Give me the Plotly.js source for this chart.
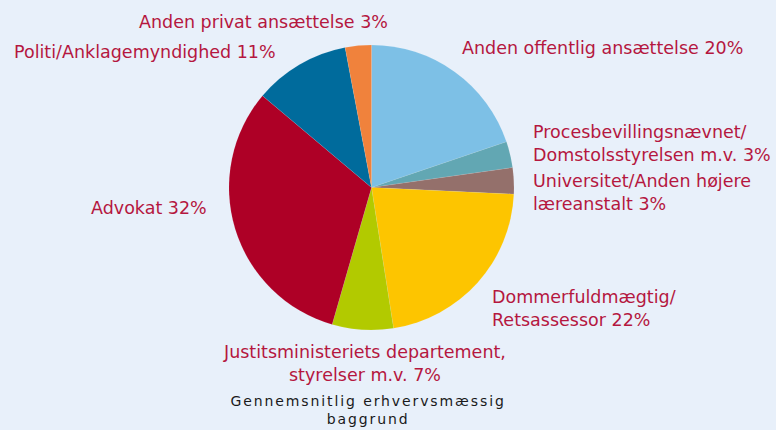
<!DOCTYPE html>
<html>
<head>
<meta charset="utf-8">
<script src="https://cdn.plot.ly/plotly-3.0.1.min.js"></script>
<style>
html,body{margin:0;padding:0;background:#E8F0FA;}
#chart{width:776px;height:430px;}
.titleann .annotation-text{letter-spacing:1.9px;}
</style>
</head>
<body>
<div id="chart"></div>
<script>
const categories = [
  "Anden offentlig ansættelse",
  "Procesbevillingsnævnet/<br>Domstolsstyrelsen m.v.",
  "Universitet/Anden højere<br>læreanstalt",
  "Dommerfuldmægtig/<br>Retsassessor",
  "Justitsministeriets departement,<br>styrelser m.v.",
  "Advokat",
  "Politi/Anklagemyndighed",
  "Anden privat ansættelse"
];
const values = [20, 3, 3, 22, 7, 32, 11, 3];
const colors = ["#7DC0E6", "#62A7B3", "#94706B", "#FDC500", "#B2CA00", "#AE0026", "#006B9C", "#F0823C"];
const chartTitle = "Gennemsnitlig erhvervsmæssig<br>baggrund";

const W = 776, H = 430;
// label placement (pixels): x, y, xanchor, align
const labelPos = [
  [460, 48, "left", "left"],
  [531, 143, "left", "left"],
  [531, 192, "left", "left"],
  [490, 308, "left", "left"],
  [364, 363, "center", "center"],
  [209, 208, "right", "right"],
  [278, 52, "right", "right"],
  [390, 22, "right", "right"]
];

const annotations = categories.map((c, i) => ({
  text: c + " " + values[i] + "%",
  xref: "paper", yref: "paper",
  x: labelPos[i][0] / W, y: 1 - labelPos[i][1] / H,
  xanchor: labelPos[i][2], yanchor: "middle", align: labelPos[i][3],
  showarrow: false,
  font: {family: "DejaVu Sans", size: 17.5, color: "#B5173F"}
}));
annotations.push({
  text: chartTitle,
  xref: "paper", yref: "paper",
  x: 368 / W, y: 1 - 410 / H,
  xanchor: "center", yanchor: "middle", align: "center",
  showarrow: false,
  font: {family: "DejaVu Sans", size: 14, color: "#1a1a1a"}
});

const cx = 371.5, cy = 187.5, r = 142.5;
const trace = {
  type: "pie",
  labels: categories,
  values: values,
  marker: {colors: colors, line: {color: "rgba(255,255,255,0.2)", width: 0.4}},
  sort: false,
  direction: "clockwise",
  rotation: 0,
  textinfo: "none",
  hoverinfo: "label+percent",
  domain: {x: [(cx - r) / W, (cx + r) / W], y: [1 - (cy + r) / H, 1 - (cy - r) / H]},
  showlegend: false
};

const layout = {
  width: W, height: H,
  margin: {l: 0, r: 0, t: 0, b: 0},
  paper_bgcolor: "#E8F0FA",
  plot_bgcolor: "#E8F0FA",
  showlegend: false,
  annotations: annotations
};

Plotly.newPlot("chart", [trace], layout, {displayModeBar: false, staticPlot: true}).then(() => {
  const anns = document.querySelectorAll(".annotation");
  const last = anns[anns.length - 1];
  if (last) last.classList.add("titleann");
});
</script>
</body>
</html>
